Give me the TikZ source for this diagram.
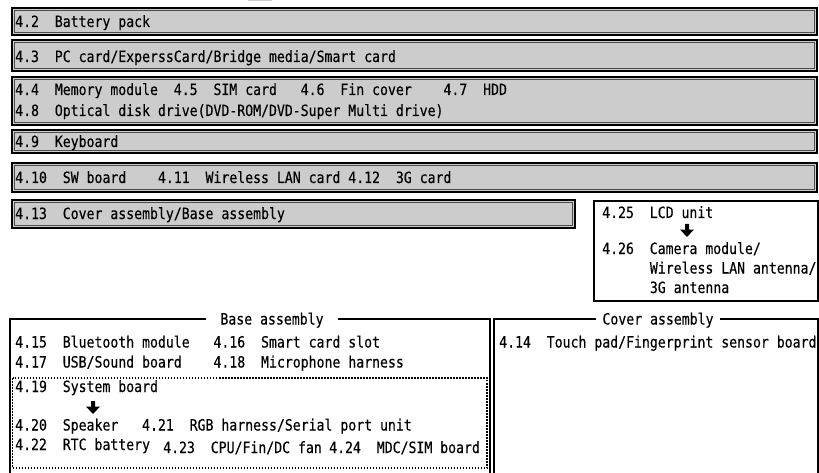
\documentclass[tikz,border=0pt]{standalone}
\usepackage{fontspec}
\newfontfamily\jmono[FakeStretch=0.85,FakeBold=0.35]{DejaVu Sans Mono}
\definecolor{boxgray}{HTML}{CCCCCC}
\tikzset{
  lbl/.style={anchor=base west, inner sep=0pt, font=\jmono\fontsize{15.5}{18}\selectfont},
  ttl/.style={fill=white, inner ysep=1pt, anchor=base, font=\jmono\fontsize{15.5}{18}\selectfont},
  graybox/.style={fill=boxgray, draw=black, line width=1.6pt},
  innerline/.style={draw=black!70, line width=0.7pt},
  frame/.style={draw=black, line width=1.3pt},
  dotbox/.style={draw=black, line width=1.5pt, dash pattern=on 1.5pt off 1.5pt},
  downarrow/.pic={\fill[black] (-2,0) -- (2,0) -- (2,5.5) -- (7,5.5) -- (0,13) -- (-7,5.5) -- (-2,5.5) -- cycle;}
}
\begin{document}
\begin{tikzpicture}[x=1pt,y=-1pt]
\useasboundingbox (0,0) rectangle (819,473);
\clip (0,0) rectangle (819,473);
% sliver at top
\fill[boxgray] (248,-1) rectangle (272,1.5);
% gray boxes
\foreach \ya/\yb/\xb in {8/35/817, 40/71/817, 77/125/817, 130/153/817, 163/192/817, 200/228/575}{
  \path[graybox] (12,\ya) rectangle (\xb,\yb);
  \path[innerline] (14.5,\ya+2.5) rectangle (\xb-2.5,\yb-2.5);
}
\node[lbl] (t42) at (15,27) {4.2~~Battery pack};
\node[lbl] (t43) at (15,62) {4.3~~PC card/ExperssCard/Bridge media/Smart card};
\node[lbl] (t44) at (15,95) {4.4~~Memory module~~4.5~~SIM card~~~4.6~~Fin cover~~~~4.7~~HDD};
\node[lbl] (t48) at (15,116) {4.8~~Optical disk drive(DVD-ROM/DVD-Super Multi drive)};
\node[lbl] (t49) at (15,147) {4.9~~Keyboard};
\node[lbl] (t410) at (15,183) {4.10~~SW board~~~~4.11~~Wireless LAN card 4.12~~3G card};
\node[lbl] (t413) at (15,219) {4.13~~Cover assembly/Base assembly};
% LCD box
\draw[frame] (594,201) rectangle (818,301);
\node[lbl] (t425) at (602,218) {4.25~~LCD unit};
\pic at (687,224) {downarrow};
\node[lbl] (t426) at (602,254) {4.26~~Camera module/};
\node[lbl] (t426b) at (649.7,273.5) {Wireless LAN antenna/};
\node[lbl] (t426c) at (649.7,293) {3G antenna};
% base assembly frame
\draw[frame] (10,480) -- (10,319) -- (490,319) -- (490,480);
\node[ttl, inner xsep=14pt] (base) at (272,324.5) {Base assembly};
\node[lbl] (t415) at (15,347.5) {4.15~~Bluetooth module~~~4.16~~Smart card slot};
\node[lbl] (t417) at (15,367.5) {4.17~~USB/Sound board~~~~4.18~~Microphone harness};
\draw[dotbox] (12.5,378) rectangle (487,468);
\node[lbl] (t419) at (15,392) {4.19~~System board};
\pic at (93,401) {downarrow};
\node[lbl] (t420) at (15,430.5) {4.20~~Speaker~~~4.21~~RGB harness/Serial port unit};
\node[lbl] (t422) at (15,450) {4.22~~RTC battery};
\node[lbl] (t423) at (163,453) {4.23~~CPU/Fin/DC fan};
\node[lbl] (t424) at (329,453) {4.24~~MDC/SIM board};
% cover assembly frame
\draw[frame] (494,480) -- (494,319) -- (818,319) -- (818,480);
\node[ttl, inner xsep=6.5pt] (cover) at (658,324.5) {Cover assembly};
\node[lbl] (t414) at (499,347.5) {4.14~~Touch pad/Fingerprint sensor board};
\end{tikzpicture}
\end{document}
